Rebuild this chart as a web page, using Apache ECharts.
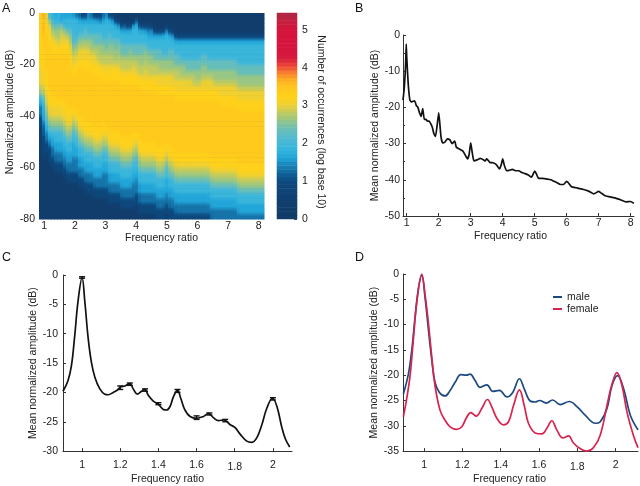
<!DOCTYPE html>
<html><head><meta charset="utf-8">
<style>html,body{margin:0;padding:0;background:#fff}#c{width:640px;height:486px}</style>
<script src="https://cdn.jsdelivr.net/npm/echarts@6/dist/echarts.min.js"></script>
</head><body><div id="c"></div>
<script>
// Panel A: one string per frequency column (top = -1 dB, bottom = -79 dB, 2 dB per letter)
const densityLevels = {a:0.3,b:0.9,c:1.3,d:1.6,e:1.9,f:2.3,g:2.6,h:2.8,i:3.0,j:3.2,k:3.35,l:3.7,m:3.9};
const densityColumns = [
"jjjjjjjjjjiiiihgedccbbaaaaaaaaaaaaaaaaaa",
"mlllkkkjjjjiiihgfedddcccbbbbaaaaaaaaaaaa",
"ihjjkkkkkkkkjjjjiihgfedccbbaaaaaaaaaaaaa",
"ehijjkkkkkkkkkkjjjiihgfedcbbbaaaaaaaaaaa",
"eefghijjkkkkkkkkjjiihgfeddccbbaaaaaaaaaa",
"defghijjkkkkkkkkjjiihgfeeddccbbaaaaaaaaa",
"eefgghijjkkkkkkkkjiihgfeeddccbbaaaaaaaaa",
"ddghiijkkkkkkkkkkjiihgfeeddccbbaaaaaaaaa",
"deeghijjkkkkkkkkkjjiihgfeeddccbbaaaaaaaa",
"deefhijjkkkkkkkkkkjjiihgfeeddccbbaaaaaaa",
"deefghiijkkkkkkkkkkjjihgfeeddccbbaaaaaaa",
"deeeeefghhijkkkkkkjihgfeedddcccbbaaaaaaa",
"ceeeefghiijjkkkkkkkjihgfeeddcccbbaaaaaaa",
"cdeefghiijkkkkkkkkkkjjihgfeeddccbbaaaaaa",
"bdeefghiijjkkkkkkkkkjjihgfeeddccbbaaaaaa",
"bdeffghiijjkkkkkkkkkkjjihgfeeddccbbaaaaa",
"ddeefghiijjkkkkkkkkkkjjihgfeeddccbbaaaaa",
"cdeefgghiijjkkkkkkkkkjjihgfeeddccbbaaaaa",
"bdeeffghiijjkkkkkkkkkkjjihgfeeddccbbaaaa",
"bdeeffghhijjkkkkkkkkkkjjihgfeeddccbbaaaa",
"bceeffgghhijjkkkkkkkkkjjihgfeeddccbbaaaa",
"cdeeefgghhijjkkkkkkkkjjihgfeeddcccbbaaaa",
"deeeeffghhiijjkkkkkkkkjihgfeeddcccbbaaaa",
"bdeeffgghhijjkkkkkkkkkkjjihgfeeddccbbaaa",
"bdeeefgghhijjkkkkkkkkkkjjihgfeeddccbbaaa",
"abdeeffgghijjkkkkkkkkkkjjihgfeeddccbbaaa",
"abdeefgghhijjkkkkkkkkkkjjihgfeeddccbbaaa",
"aabdeeffghhijjkkkkkkkkkkjjihgfeeddccbbaa",
"aacdeeffghhijjkkkkkkkkkkjjihgfeeddccbbaa",
"aabdeeffghhijjkkkkkkkkkkjjihgfeeddccbbaa",
"aabdeefgghhijjkkkkkkkkkkjjihgfeeddccbbaa",
"aadeeeffghiijjkkkkkkkkkjjihgfeeddcccbbaa",
"adeeeeffghhijjkkkkkkkkkjihgfeeddcccbbaaa",
"aabdeeffgghhijjkkkkkkkkkkjjihgfeeddccbba",
"aabdeeffgghhijjkkkkkkkkkkjjihgfeeddccbba",
"aabdeefgghhiijjkkkkkkkkkkjjihgfeeddccbba",
"aabcdeefgghhijjkkkkkkkkkkjjihgfeeddccbba",
"aabddeefgghhijjkkkkkkkkkkjjihgfeeddccbba",
"aaabdeeffghhijjkkkkkkkkkkjjihgfeeddccbba",
"aaabdeeffghhiijjkkkkkkkkkkjjihgfeeddccbb",
"aaabdeeffgghiijjkkkkkkkkkkjjihgfeeddccbb",
"aaabdeeefgghiijjkkkkkkkkkkjjihgfeeddccbb",
"aabdeeeefgghiijjkkkkkkkkkjihgfeedddccbba",
"aaabdeeffgghiijjkkkkkkkkkkjjihgfeeddccbb",
"aaabdeeffgghiijjkkkkkkkkkkjjihgfeeddccbb",
"aaaabdeeffghhiijjkkkkkkkkkkjjihgfeeddccb",
"aaaabdeeffghhiijjkkkkkkkkkkjjihgfeeddccb",
"aaaabdeeefgghiijjkkkkkkkkkkjjihgfeeddccb",
"aaaabdeeefgghiijjkkkkkkkkkkjjihgfeeddccb",
"aaaabdeeeffghiijjkkkkkkkkkkjjihgfeeddccb",
"aaaabdeeeffghiijjkkkkkkkkkkjjihgfeeddccb",
"aaaabdeeeffghhijjkkkkkkkkkkjjihgfeeddccb",
"aaaabdeeeffgghijjkkkkkkkkkkjjihgfeeddccb",
"aaaabdeeeffgghijjkkkkkkkkkkjjihgfeeddccb",
"aaaabdeeffgghiijjkkkkkkkkkkjjihgfeeddccb",
"aaaabdeeffgghiijjkkkkkkkkkkjjihgfeeddccb",
"aaaabdeeeffghiijjkkkkkkkkkkjjihgfeeddccb",
"aaaabdeeeffghiijjkkkkkkkkkkkjjihgfeeddcc",
"aaaabdeeeffgghijjkkkkkkkkkkkjjihgfeeddcc",
"aaaabdeeeffgghijjkkkkkkkkkkkjjihgfeeddcc",
"aaaabdeeeffgghiijjkkkkkkkkkkjjihgfeeddcc",
"aaaabdeeeffgghiijjkkkkkkkkkkjjihgfeeddcc",
"aaaabdeeeffgghiijjkkkkkkkkkkjjihgfeeddcc",
"aaaabdeeeffgghiijjkkkkkkkkkkjjihgfeeddcc",
"aaaabdeeeffgghiijjkkkkkkkkkkjjihgfeeddcc",
"aaaabdeeeffgghiijjkkkkkkkkkkjjihgfeeddcc",
"aaaabdeeeeffgghiijjkkkkkkkkkkjjihgfeeddc",
"aaaabdeeeeffgghiijjkkkkkkkkkkjjihgfeeddc",
"aaaabdeeeeffgghiijjkkkkkkkkkkjjihgfeeddc",
"aaaabdeeeeffgghiijjkkkkkkkkkkjjihgfeeddc",
"aaaabdeeeeffgghiijjkkkkkkkkkkjjihgfeeddc",
"aaaabdeeeeffgghiijjkkkkkkkkkkjjihgfeeddc",
"aaaabdeeeeffgghiijjkkkkkkkkkkjjihgfeeddc",
"aaaabdeeeeffgghiijjkkkkkkkkkkjjihgfeeddc",
"aaaabdeeeeffgghiijjkkkkkkkkkkjjihgfeeddc"
];
const colorbarValues = [0.05,0.15,0.25,0.35,0.45,0.55,0.65,0.75,0.85,0.95,1.05,1.15,1.25,1.35,1.45,1.55,1.65,1.75,1.85,1.95,2.05,2.15,2.25,2.35,2.45,2.55,2.65,2.75,2.85,2.95,3.05,3.15,3.25,3.35,3.45,3.55,3.65,3.75,3.85,3.95,4.05,4.15,4.25,4.35,4.45,4.55,4.65,4.75,4.85,4.95,5.05,5.15,5.25,5.35];
const colorRamp = ["#123a66","#113c6a","#103e6e","#0f4173","#0e4578","#0c4a80","#0f6399","#1b83b8","#22a5d8","#30b3dd","#45b8d8","#5cbcc8","#6fbfae","#98c684","#c0cb60","#f0d030","#ffd11a","#ffc81c","#ffb820","#f98c2c","#ee4a38","#d81e3e","#d5153e","#d5153e","#d5153e","#d5153e","#c2203e","#a82a44"];

// Panel B
const bRatio = [0.884,0.92,0.95,0.97,0.985,1.0,1.03,1.06,1.1,1.15,1.2,1.25,1.3,1.35,1.4,1.45,1.5,1.55,1.6,1.65,1.7,1.75,1.8,1.85,1.9,1.95,2.0,2.03,2.07,2.12,2.2,2.27,2.35,2.42,2.5,2.55,2.65,2.75,2.82,2.9,2.95,3.0,3.04,3.1,3.2,3.3,3.4,3.45,3.5,3.6,3.7,3.8,3.9,3.95,4.0,4.05,4.12,4.2,4.3,4.4,4.5,4.6,4.7,4.8,4.9,5.0,5.05,5.12,5.25,5.4,5.5,5.6,5.7,5.8,5.9,6.0,6.05,6.15,6.3,6.5,6.7,6.85,7.0,7.1,7.2,7.5,7.7,7.85,8.0,8.1];
const bAmp = [-18,-15,-11,-7,-2.5,-6,-11,-15,-18,-18.5,-18.3,-18.2,-19.5,-20,-21.5,-22.5,-20.3,-23.3,-23.3,-23.8,-23.8,-24.5,-25.5,-27.3,-28,-25,-21.5,-24,-28,-29.8,-29.5,-28.7,-29,-30,-29.3,-31,-31.5,-32,-33,-34.2,-33,-29.8,-32,-34.8,-34.5,-34.1,-34.5,-34.8,-34.2,-35.2,-35.3,-35.8,-37,-36,-34.2,-36,-37.5,-37.4,-37.1,-37.5,-37.5,-38,-38.3,-38.7,-39.3,-37.6,-38.3,-39.6,-39.6,-39.8,-40,-40.4,-40.8,-41.3,-41.3,-40.4,-40.8,-41.9,-42.2,-42.6,-43.2,-43.9,-43.2,-43.8,-44.4,-45,-45.6,-46.1,-46,-46.5];

// Panel C
const cRatio = [0.9,0.926,0.944,0.961,0.979,1.0,1.014,1.032,1.049,1.067,1.093,1.119,1.137,1.163,1.189,1.201,1.224,1.25,1.268,1.289,1.312,1.329,1.347,1.373,1.399,1.426,1.443,1.461,1.478,1.5,1.517,1.539,1.566,1.601,1.636,1.662,1.688,1.715,1.744,1.776,1.802,1.828,1.863,1.89,1.916,1.942,1.968,1.998,2.021,2.047,2.065,2.088];
const cAmp = [-19.8,-18,-15.5,-10.5,-4.4,-0.5,-4.4,-10.8,-14.9,-17.4,-19.4,-20.3,-20.4,-20,-19.5,-19.1,-18.9,-18.5,-19.4,-20.3,-19.8,-19.5,-20.5,-21.5,-22,-22.9,-23,-22.4,-20.8,-19.6,-21,-23,-24.1,-24.4,-24.1,-23.6,-24.3,-24.8,-24.7,-25.5,-26,-27.1,-28.3,-28.5,-27.7,-25.5,-22.7,-21,-22.4,-26,-27.9,-29.3];
const cErrRatio = [1.0,1.2,1.25,1.33,1.4,1.5,1.6,1.667,1.75,2.0];
const cErrHigh = [-0.3,-18.9,-18.4,-19.4,-21.75,-19.5,-24.0,-23.5,-24.6,-20.9];
const cErrLow = [-0.55,-19.5,-18.8,-19.8,-22.1,-20.0,-24.6,-23.85,-25.0,-21.3];

// Panel D
const femaleRatio = [0.892,0.909,0.927,0.944,0.962,0.988,1.005,1.023,1.04,1.057,1.084,1.11,1.136,1.171,1.197,1.22,1.244,1.272,1.301,1.331,1.354,1.38,1.415,1.441,1.467,1.498,1.523,1.545,1.58,1.615,1.641,1.667,1.693,1.725,1.754,1.78,1.815,1.85,1.885,1.92,1.955,1.981,2.007,2.033,2.059,2.094,2.117];
const femaleAmp = [-28.2,-24.7,-20.1,-13,-5.6,0,-4,-9.8,-16.3,-22,-27,-28.9,-30.2,-30.7,-30.2,-28.5,-27.4,-28.1,-26.6,-24.8,-26.3,-28.5,-29.8,-29.2,-26,-22.9,-26,-29.5,-31.4,-31.6,-30.5,-29,-30.8,-32.4,-32,-33.4,-34.5,-35,-34.3,-31.8,-26,-21.8,-19.5,-22,-27.2,-32,-34.3];
const maleRatio = [0.892,0.918,0.936,0.953,0.97,0.988,1.005,1.023,1.04,1.057,1.08,1.11,1.136,1.162,1.192,1.22,1.24,1.267,1.293,1.328,1.359,1.394,1.432,1.463,1.498,1.523,1.554,1.58,1.603,1.638,1.671,1.711,1.758,1.801,1.841,1.894,1.92,1.955,1.981,2.01,2.042,2.077,2.117];
const maleAmp = [-23.7,-19.8,-15,-8.5,-3,-0.3,-4.6,-11.1,-16.9,-21.4,-23.4,-24.1,-23,-21.4,-19.9,-20,-19.8,-21.1,-22.4,-21.9,-23.2,-23,-24.3,-23.4,-20.7,-22.7,-25.1,-25.3,-25,-25.5,-24.9,-25.8,-25.2,-26.3,-27.9,-29.5,-29.2,-26.6,-22.1,-20.1,-22.7,-27.9,-30.8];

// Tick labels
const aTicks = [1,2,3,4,5,6,7,8];
const bTicks = [1,2,3,4,5,6,7,8];
const cdTicks = [1,1.2,1.4,1.6,1.8,2];

const FONT = '"Liberation Sans", Arial, sans-serif';
const INK = '#222';
const FS = 10.5;
const zip = (a, b) => a.map((v, i) => [v, b[i]]);
const heatData = [];
densityColumns.forEach((col, i) => {
  for (let j = 0; j < 40 && j < col.length; j++) heatData.push([i, j, densityLevels[col[j]]]);
});
const barData = colorbarValues.map((v, j) => [0, j, v]);

// Cell shading: a soft vertical gradient inside each cell, tinted by the neighbouring columns,
// so the photographed density map keeps its blurry look.
const cellLevel = (i, j) => {
  const col = densityColumns[Math.max(0, Math.min(densityColumns.length - 1, i))];
  return densityLevels[col[Math.max(0, Math.min(39, j))]];
};
const rowLevel = (i, j) => 0.17 * cellLevel(i - 1, j) + 0.66 * cellLevel(i, j) + 0.17 * cellLevel(i + 1, j);
const rampColor = v => echarts.color.lerp(Math.max(0, Math.min(1, v / 5.4)), colorRamp);

const lbl = (o) => Object.assign({color: INK, fontFamily: FONT, fontSize: FS, margin: 3, hideOverlap: false}, o);
const nm = (o) => Object.assign({color: INK, fontFamily: FONT, fontSize: FS}, o);
const lineAxis = {lineStyle: {color: '#333', width: 1}};
const tick = (extra) => Object.assign({inside: true, length: 3, lineStyle: {color: '#333', width: 1}}, extra);
const hidden = (o) => Object.assign({show: false, axisLine: {show: false}, axisTick: {show: false}, splitLine: {show: false}}, o);

function valueX(grid, min, max, ticks, nameGap, pad, margin, fmt) {
  return {type: 'value', gridIndex: grid, min, max, scale: true, position: 'bottom',
    splitLine: {show: false}, axisLine: Object.assign({onZero: false}, lineAxis),
    axisTick: tick({customValues: ticks}),
    axisLabel: lbl({customValues: ticks, margin, formatter: fmt || (v => String(v)),
      rich: {low: {color: INK, fontFamily: FONT, fontSize: FS, padding: [2, 0, 0, 0]}}}),
    name: 'Frequency ratio', nameLocation: 'middle', nameGap,
    nameTextStyle: nm({padding: pad})};
}
function valueY(grid, min, max, interval, name, nameGap, pad) {
  return {type: 'value', gridIndex: grid, min, max, interval, position: 'left',
    splitLine: {show: false}, axisLine: Object.assign({onZero: false}, lineAxis),
    axisTick: tick(), minorTick: {show: false},
    axisLabel: lbl({margin: 4}),
    name, nameLocation: 'middle', nameGap, nameRotate: 90,
    nameTextStyle: nm({padding: pad})};
}
const lowered = v => (v === 1.8 ? '{low|1.8}' : String(v));

const option = {
  animation: false,
  backgroundColor: '#fff',
  textStyle: {fontFamily: FONT},
  title: [
    {text: 'A', left: 2, top: 2},
    {text: 'B', left: 355, top: 2},
    {text: 'C', left: 2, top: 251},
    {text: 'D', left: 355, top: 251}
  ].map(t => Object.assign(t, {padding: 0, textStyle: {fontFamily: FONT, fontSize: 12.5, fontWeight: 'normal', color: '#111'}})),
  grid: [
    {left: 39, top: 13, width: 225, height: 206, show: true, backgroundColor: '#123a66', borderWidth: 0},
    {left: 277, top: 13, width: 20, height: 206},
    {left: 403, top: 35, width: 231, height: 181},
    {left: 63, top: 275, width: 229, height: 181},
    {left: 403, top: 274, width: 235, height: 181}
  ],
  visualMap: {type: 'continuous', show: false, min: 0, max: 5.4, seriesIndex: [1], inRange: {color: colorRamp}},
  legend: {data: ['male', 'female'], orient: 'vertical', left: 548, top: 286, icon: 'rect', itemWidth: 9, itemHeight: 2, itemGap: 0, itemStyle: {borderWidth: 0},
    textStyle: {color: INK, fontFamily: FONT, fontSize: 10.5, lineHeight: 12, padding: [0,0,0,0]}},
  xAxis: [
    hidden({type: 'category', gridIndex: 0, data: densityColumns.map((c, i) => i)}),
    Object.assign(valueX(0, 0.83, 8.17, aTicks, 12, [0, 0, 0, 20], 2), {axisLine: {show: false}, axisTick: {show: false}}),
    hidden({type: 'category', gridIndex: 1, data: ['bar']}),
    valueX(2, 0.884, 8.103, bTicks, 15, [0, 16, 0, 0], 2),
    valueX(3, 0.9, 2.1, cdTicks, 17, [0, 20, 0, 0], 9, lowered),
    valueX(4, 0.89, 2.117, cdTicks, 18, [0, 22, 0, 0], 9, lowered)
  ],
  yAxis: [
    hidden({type: 'category', gridIndex: 0, inverse: true, data: Array.from({length: 40}, (_, j) => j)}),
    Object.assign(valueY(0, -80, 0, 20, 'Normalized amplitude (dB)', 23, [0, 0, 0, 8]), {axisLine: {show: false}, axisTick: {show: false}}),
    hidden({type: 'category', gridIndex: 1, data: colorbarValues}),
    {type: 'value', gridIndex: 1, min: 0, max: 5.45, interval: 1, position: 'right', splitLine: {show: false},
      axisLine: {show: false}, axisTick: {show: true, inside: true, length: 3, lineStyle: {color: '#555'}},
      minorTick: {show: true, splitNumber: 2, length: 2, lineStyle: {color: '#555'}},
      axisLabel: lbl({margin: 5, showMaxLabel: false}),
      name: 'Number of occurrences (log base 10)', nameLocation: 'middle', nameGap: 18, nameRotate: -90,
      nameTextStyle: nm({padding: [0, 0, 0, 12]})},
    Object.assign(valueY(2, -50, 0, 10, 'Mean normalized amplitude (dB)', 21, [0,0,0,0]), {minorTick: {show: true, splitNumber: 2, length: 2, lineStyle: {color: '#333'}}, axisLabel: lbl({margin: 3})}),
    Object.assign(valueY(3, -30, 0, 5, 'Mean normalized amplitude (dB)', 22, [0,0,0,0]), {axisLabel: lbl({margin: 5})}),
    Object.assign(valueY(4, -35, 0, 5, 'Mean normalized amplitude (dB)', 23.5, [0,0,0,0]), {axisLabel: lbl({margin: 4})})
  ],
  series: [
    {type: 'custom', xAxisIndex: 0, yAxisIndex: 0, data: heatData, silent: true, progressive: 0,
      encode: {x: 0, y: 1},
      renderItem: (params, api) => {
        const i = api.value(0), j = api.value(1);
        const c = api.coord([i, j]);
        const s = api.size([1, 1]);
        const here = rowLevel(i, j);
        const above = j > 0 ? (here + rowLevel(i, j - 1)) / 2 : here;
        const below = j < 39 ? (here + rowLevel(i, j + 1)) / 2 : here;
        return {type: 'rect',
          shape: {x: c[0] - s[0] / 2, y: c[1] - s[1] / 2, width: s[0] + 0.5, height: s[1] + 0.5},
          style: {fill: new echarts.graphic.LinearGradient(0, 0, 0, 1, [
            {offset: 0, color: rampColor(above)},
            {offset: 0.5, color: rampColor(here)},
            {offset: 1, color: rampColor(below)}])}};
      }},
    {type: 'heatmap', xAxisIndex: 2, yAxisIndex: 2, data: barData, progressive: 0, silent: true, itemStyle: {borderWidth: 0}},
    {type: 'line', xAxisIndex: 3, yAxisIndex: 4, data: zip(bRatio, bAmp), showSymbol: false, lineStyle: {color: '#111', width: 1.7}, smooth: 0.15, silent: true},
    {type: 'line', xAxisIndex: 4, yAxisIndex: 5, data: zip(cRatio, cAmp), showSymbol: false, lineStyle: {color: '#111', width: 1.7}, smooth: 0.4, silent: true},
    {type: 'custom', xAxisIndex: 4, yAxisIndex: 5, silent: true, z: 5,
      data: cErrRatio.map((r, i) => [r, cErrLow[i], cErrHigh[i]]),
      encode: {x: 0, y: [1, 2]},
      renderItem: (params, api) => {
        const lo = api.coord([api.value(0), api.value(1)]);
        const hi = api.coord([api.value(0), api.value(2)]);
        const st = {stroke: '#111', lineWidth: 1.4, fill: 'none'};
        return {type: 'group', children: [
          {type: 'line', shape: {x1: lo[0], y1: lo[1], x2: hi[0], y2: hi[1]}, style: st},
          {type: 'line', shape: {x1: lo[0] - 3, y1: lo[1], x2: lo[0] + 3, y2: lo[1]}, style: st},
          {type: 'line', shape: {x1: hi[0] - 3, y1: hi[1], x2: hi[0] + 3, y2: hi[1]}, style: st}
        ]};
      }},
    {type: 'line', name: 'male', xAxisIndex: 5, yAxisIndex: 6, data: zip(maleRatio, maleAmp), showSymbol: false, lineStyle: {color: '#1c4a80', width: 1.7}, itemStyle: {color: '#1c4a80'}, smooth: 0.4, silent: true},
    {type: 'line', name: 'female', xAxisIndex: 5, yAxisIndex: 6, data: zip(femaleRatio, femaleAmp), showSymbol: false, lineStyle: {color: '#d8234f', width: 1.7}, itemStyle: {color: '#d8234f'}, smooth: 0.4, silent: true}
  ]
};
const chart = echarts.init(document.getElementById('c'), null, {renderer: 'canvas', width: 640, height: 486});
chart.setOption(option);
</script></body></html>
